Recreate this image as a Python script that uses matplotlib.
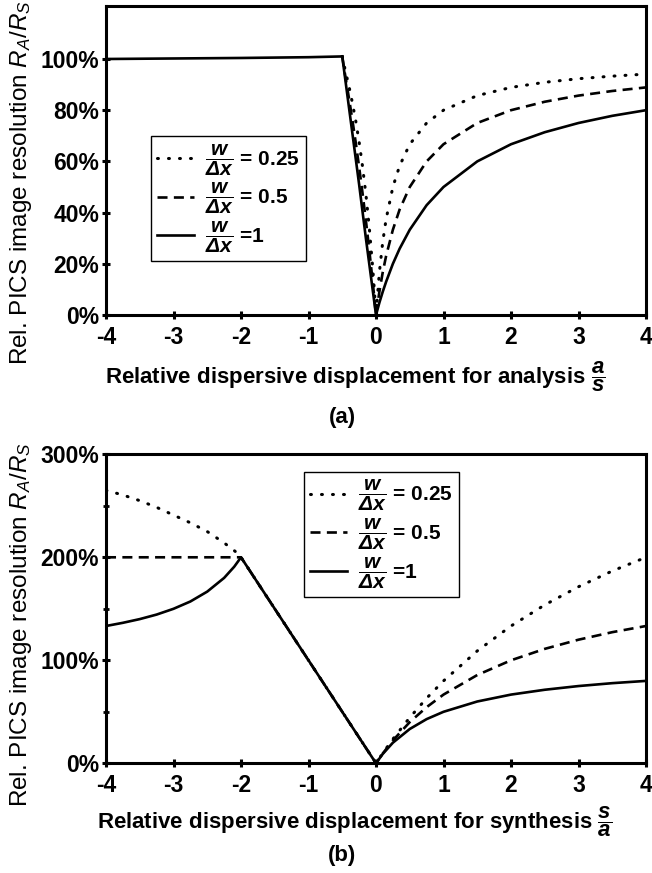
"""
PICS image resolution vs. relative dispersive displacement
"""
import matplotlib
matplotlib.use("Agg")
import matplotlib.pyplot as plt
from matplotlib.ticker import FixedLocator, FuncFormatter

plt.rcParams["font.family"] = ["Liberation Sans", "DejaVu Sans"]
plt.rcParams["axes.unicode_minus"] = False
plt.rcParams["mathtext.fontset"] = "custom"
plt.rcParams["mathtext.rm"] = "Liberation Sans"
plt.rcParams["mathtext.it"] = "Liberation Sans:italic"
plt.rcParams["mathtext.bf"] = "Liberation Sans:bold"
plt.rcParams["mathtext.bfit"] = "Liberation Sans:bold:italic"

# ---- panel (a): analysis, values in percent
A_X_LEFT = [-4, -3, -2, -1, -0.5]
A_Y_LEFT = [100, 100.2, 100.4, 100.7, 101]

A_X_DROP = [-0.5, -0.45, -0.4, -0.35, -0.3, -0.25, -0.2, -0.15, -0.1, -0.05, -0.025, 0]
A_DOT_DROP = [101, 94.9, 89.3, 82.9, 75.8, 67.6, 58.1, 47.2, 34.2, 18.8, 9.9, 0]
A_DASH_DROP = [101, 92.5, 84.6, 76.2, 67.3, 57.8, 47.7, 37.0, 25.5, 13.2, 6.8, 0]
A_SOLID_DROP = [101, 91, 81, 71, 61, 51, 40.5, 30, 20, 10, 5, 0]

A_X_RISE = [0, 0.05, 0.1, 0.15, 0.25, 0.35, 0.5, 0.75, 1, 1.5, 2, 2.5, 3, 3.5, 4]
A_DOT_RISE = [0, 16.7, 28.6, 37.5, 50, 58.3, 66.7, 75, 80, 85.7, 88.9, 90.9, 92.3, 93.3, 94.1]
A_DASH_RISE = [0, 9.1, 16.7, 23.1, 33.3, 41.2, 50, 60, 66.7, 75, 80, 83.3, 85.7, 87.5, 88.9]
A_SOLID_RISE = [0, 4.8, 9.1, 13.0, 20, 25.9, 33.3, 42.9, 50, 60, 66.7, 71.4, 75, 77.8, 80]

# ---- panel (b): synthesis
B_X_LEFT = [-4, -3.75, -3.5, -3.25, -3, -2.75, -2.5, -2.25, -2.1, -2]
B_DOT_LEFT = [265, 260.5, 255, 248.5, 241, 233.5, 225, 214, 206.5, 201]
B_DASH_LEFT = [200, 200, 200, 200, 200, 200, 200, 200, 200, 200]
B_SOLID_LEFT = [133.3, 136.4, 140, 144.4, 150, 157.1, 166.7, 180, 190.9, 200]

B_X_MID = [-2, 0]
B_Y_MID = [200, 0]

B_X_RIGHT = [0, 0.1, 0.25, 0.5, 0.75, 1, 1.5, 2, 2.5, 3, 3.5, 4]
B_DOT_RIGHT = [0, 9.8, 23.5, 44.4, 63.2, 80, 109.1, 133.3, 153.8, 171.4, 186.7, 200]
B_DASH_RIGHT = [0, 9.5, 22.2, 40, 54.5, 66.7, 85.7, 100, 111.1, 120, 127.3, 133.3]
B_SOLID_RIGHT = [0, 9.1, 20, 33.3, 42.9, 50, 60, 66.7, 71.4, 75, 77.8, 80]

X_TICKS = [-4, -3, -2, -1, 0, 1, 2, 3, 4]
A_Y_TICKS = [0, 20, 40, 60, 80, 100]
B_Y_TICKS = [0, 100, 200, 300]
B_Y_MINOR = [50, 150, 250]

FRAC = r"$\mathbfit{\dfrac{w}{\Delta x}}$"
LABELS = [FRAC + " = 0.25", FRAC + " = 0.5", FRAC + " =1"]

W, H = 652, 873
DOT = (0, (0.3, 3.3))
DASH = (0, (3.8, 2.4))
LW = 1.9
LW_DOT = 2.2


def px(x, y):
    """pixel position -> figure fraction"""
    return x / W, 1 - y / H


def style_axes(ax, ymax, yticks, yminor=None):
    """thick frame, bold tick labels"""
    ax.set_xlim(-4, 4)
    ax.set_ylim(0, ymax)
    ax.xaxis.set_major_locator(FixedLocator(X_TICKS))
    ax.yaxis.set_major_locator(FixedLocator(yticks))
    if yminor:
        ax.yaxis.set_minor_locator(FixedLocator(yminor))
    ax.yaxis.set_major_formatter(FuncFormatter(lambda v, _: "{:.0f}%".format(v)))
    for spine in ax.spines.values():
        spine.set_linewidth(2.2)
    ax.tick_params(axis="both", which="major", direction="inout", length=6,
                   width=2.2, labelsize=16.5)
    ax.tick_params(axis="x", which="major", pad=5)
    ax.tick_params(axis="y", which="major", pad=2)
    ax.tick_params(axis="y", which="minor", direction="inout", length=5, width=2)
    for lab in ax.get_xticklabels() + ax.get_yticklabels():
        lab.set_fontweight("bold")


def add_legend(ax, anchor):
    """boxed legend with square corners"""
    leg = ax.legend(loc="upper left", bbox_to_anchor=anchor, fancybox=False,
                    edgecolor="black", framealpha=1, handlelength=1.75,
                    handletextpad=0.55, borderpad=0.3, labelspacing=0.15,
                    borderaxespad=0, prop={"size": 15, "weight": "bold"})
    leg.get_frame().set_linewidth(1.0)


fig = plt.figure(figsize=(W / 100, H / 100), dpi=100)

# panel (a)
ax_a = fig.add_axes([106 / W, 1 - 315 / H, 540 / W, 309 / H])
ax_a.plot(A_X_LEFT, A_Y_LEFT, color="black", lw=LW)
ax_a.plot(A_X_DROP + A_X_RISE, A_DOT_DROP + A_DOT_RISE, color="black", lw=LW_DOT,
          linestyle=DOT, dash_capstyle="round", label=LABELS[0])
ax_a.plot(A_X_DROP + A_X_RISE, A_DASH_DROP + A_DASH_RISE, color="black", lw=LW,
          linestyle=DASH, label=LABELS[1])
ax_a.plot(A_X_DROP + A_X_RISE, A_SOLID_DROP + A_SOLID_RISE, color="black", lw=LW,
          label=LABELS[2])
style_axes(ax_a, 120.7, A_Y_TICKS)
add_legend(ax_a, (0.083, 0.579))

# panel (b)
ax_b = fig.add_axes([106 / W, 1 - 763.3 / H, 540 / W, 309 / H])
ax_b.plot(B_X_LEFT + B_X_MID + B_X_RIGHT, B_DOT_LEFT + B_Y_MID + B_DOT_RIGHT,
          color="black", lw=LW_DOT, linestyle=DOT, dash_capstyle="round",
          label=LABELS[0])
ax_b.plot(B_X_LEFT + B_X_MID + B_X_RIGHT, B_DASH_LEFT + B_Y_MID + B_DASH_RIGHT,
          color="black", lw=LW, linestyle=DASH, label=LABELS[1])
ax_b.plot(B_X_LEFT + B_X_MID + B_X_RIGHT, B_SOLID_LEFT + B_Y_MID + B_SOLID_RIGHT,
          color="black", lw=LW, label=LABELS[2])
style_axes(ax_b, 300, B_Y_TICKS, B_Y_MINOR)
add_legend(ax_b, (0.367, 0.944))

# axis labels and panel tags
YLAB = r"Rel. PICS image resolution $R_A/R_S$"
fig.text(*px(21, 183), YLAB, rotation=90, ha="center", va="center", fontsize=17.5)
fig.text(*px(21, 625), YLAB, rotation=90, ha="center", va="center", fontsize=17.5)
fig.text(*px(355, 377),
         r"Relative dispersive displacement for analysis $\mathbfit{\dfrac{a}{s}}$",
         ha="center", va="center", fontsize=16, fontweight="bold")
fig.text(*px(355, 822),
         r"Relative dispersive displacement for synthesis $\mathbfit{\dfrac{s}{a}}$",
         ha="center", va="center", fontsize=16, fontweight="bold")
fig.text(*px(342, 417), "(a)", ha="center", va="center", fontsize=16, fontweight="bold")
fig.text(*px(342, 855), "(b)", ha="center", va="center", fontsize=16, fontweight="bold")

fig.savefig("out.png", dpi=100)
plt.close(fig)
